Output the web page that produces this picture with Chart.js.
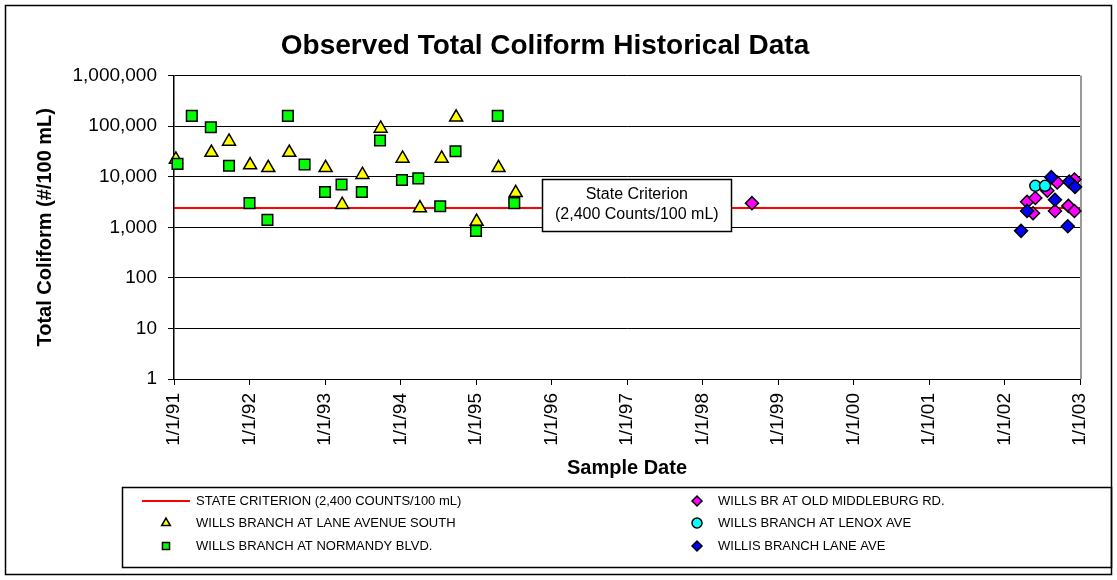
<!DOCTYPE html>
<html>
<head>
<meta charset="utf-8">
<title>Observed Total Coliform Historical Data</title>
<script src="https://cdn.jsdelivr.net/npm/chart.js@4.4.1/dist/chart.umd.min.js"></script>
<style>
  html, body { margin: 0; padding: 0; background: #fff; }
  #wrap { width: 1117px; height: 580px; }
</style>
</head>
<body>
<div id="wrap"><canvas id="chart" width="1117" height="580"></canvas></div>
<script>
// values, Total Coliform in #/100 mL
const laneSouthDates = [
  '1991-01-10', '1991-07-01', '1991-09-24', '1992-01-04', '1992-04-01', '1992-07-12',
  '1993-01-04', '1993-03-25', '1993-07-01', '1993-09-27', '1994-01-11', '1994-04-05',
  '1994-07-19', '1994-09-27', '1995-01-04', '1995-04-20', '1995-07-12'
]
const laneSouthValues = [
  22000, 30000, 50000, 17000, 15000, 30000,
  15000, 2800, 11000, 90000, 23000, 2400,
  23000, 150000, 1300, 15000, 4800
]

const normandyDates = [
  '1991-01-18', '1991-03-28', '1991-06-28', '1991-09-24', '1992-01-01', '1992-03-28',
  '1992-07-05', '1992-09-24', '1993-01-01', '1993-03-22', '1993-06-28', '1993-09-24',
  '1994-01-08', '1994-03-28', '1994-07-12', '1994-09-24', '1995-01-01', '1995-04-16',
  '1995-07-05'
]
const normandyValues = [
  18000, 160000, 95000, 16500, 3000, 1400,
  160000, 17500, 5000, 7000, 5000, 52000,
  8600, 9300, 2600, 32000, 850, 160000,
  3000
]

const middleburgDates = [
  '1998-08-28', '2002-04-20', '2002-05-19', '2002-05-30', '2002-07-27', '2002-09-02',
  '2002-09-13', '2002-11-06', '2002-12-05', '2002-12-05'
]
const middleburgValues = [3000, 3200, 1900, 3800, 5300, 2100, 7700, 2650, 2100, 8800]

const lenoxDates = ['2002-05-30', '2002-07-16']
const lenoxValues = [6600, 6600]

const willisLaneDates = [
  '2002-03-22', '2002-04-20', '2002-08-15', '2002-09-02', '2002-11-03', '2002-11-10',
  '2002-12-08'
]
const willisLaneValues = [850, 2100, 9800, 3500, 1050, 8000, 6300]

const criterion = 2400
const criterionYears = [1991, 2003]
const yTicks = [1, 10, 100, 1000, 10000, 100000, 1000000]
const xYears = [1991, 1992, 1993, 1994, 1995, 1996, 1997, 1998, 1999, 2000, 2001, 2002, 2003]
const noteYear = 1997.13

const FONT = "'Liberation Sans', Arial, sans-serif"

function toYear (d) {
  const [y, m, day] = d.split('-').map(Number)
  const start = Date.UTC(y, 0, 1)
  const end = Date.UTC(y + 1, 0, 1)
  return y + (Date.UTC(y, m - 1, day) - start) / (end - start)
}

function points (dates, values) {
  return dates.map((d, i) => ({ x: toYear(d), y: values[i] }))
}

function marker (label, data, style, color, radius, order) {
  return {
    label,
    data,
    pointStyle: style,
    pointRadius: radius,
    pointBackgroundColor: color,
    pointBorderColor: '#000',
    pointBorderWidth: 1.5,
    backgroundColor: color,
    borderColor: '#000',
    showLine: false,
    clip: false,
    order
  }
}

// frame, plot edge, criterion note and the two-column legend
const decorations = {
  id: 'decorations',
  beforeDraw (chart) {
    const { ctx, width, height } = chart
    ctx.save()
    ctx.fillStyle = '#fff'
    ctx.fillRect(0, 0, width, height)
    ctx.restore()
  },
  beforeDatasetsDraw (chart) {
    const { ctx, chartArea } = chart
    ctx.save()
    ctx.strokeStyle = '#999'
    ctx.lineWidth = 2
    ctx.beginPath()
    ctx.moveTo(chartArea.right + 1, chartArea.top)
    ctx.lineTo(chartArea.right + 1, chartArea.bottom)
    ctx.stroke()
    ctx.restore()
  },
  afterDatasetsDraw (chart) {
    const { ctx, scales } = chart
    ctx.save()
    const cx = scales.x.getPixelForValue(noteYear)
    const cy = scales.y.getPixelForValue(criterion) - 3
    const w = 189
    const h = 52
    ctx.fillStyle = '#fff'
    ctx.fillRect(cx - w / 2, cy - h / 2, w, h)
    ctx.strokeStyle = '#000'
    ctx.lineWidth = 1.5
    ctx.strokeRect(Math.round(cx - w / 2) + 0.5, Math.round(cy - h / 2) + 0.5, w, h)
    ctx.fillStyle = '#000'
    ctx.font = '16px ' + FONT
    ctx.textAlign = 'center'
    ctx.textBaseline = 'middle'
    ctx.fillText('State Criterion', cx, cy - 10)
    ctx.fillText('(2,400 Counts/100 mL)', cx, cy + 10)
    ctx.restore()
  },
  afterDraw (chart) {
    const { ctx, width, height } = chart
    ctx.save()
    ctx.strokeStyle = '#000'
    ctx.lineWidth = 1.5
    ctx.strokeRect(5.5, 5.5, width - 11, height - 11)

    // legend box
    ctx.strokeRect(122.5, 487.5, width - 128, 80)
    const cols = [{ mx: 166, tx: 196 }, { mx: 697, tx: 718 }]
    const rows = [501, 523, 546]
    ctx.font = '13px ' + FONT
    ctx.textBaseline = 'middle'
    ctx.textAlign = 'left'
    chart.data.datasets.forEach((ds, i) => {
      const col = cols[Math.floor(i / 3)]
      const y = rows[i % 3]
      if (ds.type === 'line') {
        ctx.strokeStyle = ds.borderColor
        ctx.lineWidth = 2
        ctx.beginPath()
        ctx.moveTo(col.mx - 24, y)
        ctx.lineTo(col.mx + 24, y)
        ctx.stroke()
      } else {
        ctx.fillStyle = ds.pointBackgroundColor
        ctx.strokeStyle = '#000'
        ctx.lineWidth = 1.5
        Chart.helpers.drawPoint(ctx, { pointStyle: ds.pointStyle, radius: 5, borderWidth: 1.5, rotation: 0 }, col.mx, y)
      }
      ctx.fillStyle = '#000'
      ctx.fillText(ds.label, col.tx, y)
    })
    ctx.restore()
  }
}

const chart = new Chart(document.getElementById('chart'), {
  type: 'scatter',
  data: {
    datasets: [
      {
        type: 'line',
        label: 'STATE CRITERION (2,400 COUNTS/100 mL)',
        data: criterionYears.map(x => ({ x, y: criterion })),
        borderColor: '#ff0000',
        borderWidth: 2,
        pointRadius: 0,
        order: 6
      },
      marker('WILLS BRANCH AT LANE AVENUE SOUTH', points(laneSouthDates, laneSouthValues), 'triangle', '#ffff00', 7.5, 5),
      marker('WILLS BRANCH AT NORMANDY BLVD.', points(normandyDates, normandyValues), 'rect', '#00ff00', 7.5, 4),
      marker('WILLS BR AT OLD MIDDLEBURG RD.', points(middleburgDates, middleburgValues), 'rectRot', '#ff00ff', 6.5, 3),
      marker('WILLS BRANCH AT LENOX AVE', points(lenoxDates, lenoxValues), 'circle', '#00ffff', 5.5, 2),
      marker('WILLIS BRANCH LANE AVE', points(willisLaneDates, willisLaneValues), 'rectRot', '#0000ff', 6.5, 1)
    ]
  },
  options: {
    responsive: false,
    animation: false,
    layout: { padding: { left: 10, right: 37, top: 10, bottom: 98 } },
    plugins: {
      legend: { display: false },
      tooltip: { enabled: false },
      title: {
        display: true,
        text: 'Observed Total Coliform Historical Data',
        color: '#000',
        font: { family: FONT, size: 28, weight: 'bold' },
        padding: { top: 19, bottom: 13 }
      }
    },
    scales: {
      x: {
        type: 'linear',
        min: 1991,
        max: 2003,
        afterBuildTicks: scale => { scale.ticks = xYears.map(v => ({ value: v })) },
        afterFit: scale => { scale.height = 103 },
        ticks: {
          autoSkip: false,
          maxRotation: 90,
          minRotation: 90,
          padding: 8,
          color: '#000',
          font: { family: FONT, size: 19 },
          callback: v => '1/1/' + String(v).slice(2)
        },
        grid: { drawOnChartArea: false, color: '#000', tickLength: 6 },
        border: { color: '#000', width: 1 },
        title: {
          display: true,
          text: 'Sample Date',
          color: '#000',
          font: { family: FONT, size: 20, weight: 'bold' },
          padding: { top: 0, bottom: 2 }
        }
      },
      y: {
        type: 'logarithmic',
        min: 1,
        max: 1000000,
        afterBuildTicks: scale => { scale.ticks = yTicks.map(v => ({ value: v })) },
        afterFit: scale => { scale.width = 164 },
        ticks: {
          padding: 11,
          color: '#000',
          font: { family: FONT, size: 19 },
          callback: v => Number(v).toLocaleString('en-US')
        },
        grid: { color: '#000', lineWidth: 1, tickLength: 6 },
        border: { color: '#000', width: 1.5 },
        title: {
          display: true,
          text: 'Total Coliform (#/100 mL)',
          color: '#000',
          font: { family: FONT, size: 20, weight: 'bold' },
          padding: { top: 23, bottom: 0 }
        }
      }
    }
  },
  plugins: [decorations]
})
</script>
</body>
</html>
